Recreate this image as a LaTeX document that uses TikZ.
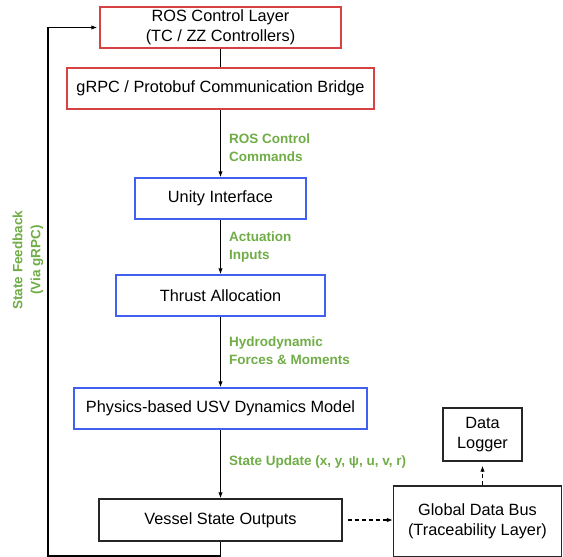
\documentclass[tikz,border=0pt]{standalone}
\usepackage{fontspec}
\setmainfont{Liberation Sans}
\usetikzlibrary{arrows.meta, positioning}

\definecolor{boxred}{RGB}{214,66,66}
\definecolor{boxblue}{RGB}{66,96,240}
\definecolor{labelgreen}{RGB}{112,173,71}

\begin{document}
\begin{tikzpicture}[x=1pt, y=-1pt,
    box/.style={draw, line width=1.3pt, minimum height=41pt, inner sep=0pt,
        align=center, font=\fontsize{16.3}{19.5}\selectfont},
    redbox/.style={box, draw=boxred},
    bluebox/.style={box, draw=boxblue},
    blackbox/.style={box, draw=black!85},
    flow/.style={-{Latex[length=6pt, width=4.5pt]}, line width=1.2pt},
    tag/.style={anchor=west, align=left, inner sep=0pt, text=labelgreen,
        font=\bfseries\fontsize{13.5}{18}\selectfont}]

    % Fix the page to the reference size
    \useasboundingbox (0, 0) rectangle (563, 557);

    % Control chain
    \node[redbox, minimum width=241pt] (ros) at (220.5, 27.5) {ROS Control Layer\\(TC / ZZ Controllers)};
    \node[redbox, minimum width=307pt] (grpc) at (220.5, 88.5) {gRPC / Protobuf Communication Bridge};
    \node[bluebox, minimum width=171pt] (unity) at (220.5, 198.5) {Unity Interface};
    \node[bluebox, minimum width=209pt] (thrust) at (220.5, 295.5) {Thrust Allocation};
    \node[bluebox, minimum width=293pt] (dyn) at (220.5, 408.5) {Physics-based USV Dynamics Model};
    \node[blackbox, minimum width=243pt, minimum height=42pt] (vessel) at (220.5, 520) {Vessel State Outputs};

    % Data side
    \node[blackbox, minimum width=79pt, minimum height=53pt] (logger) at (482.5, 434.5) {Data\\Logger};
    \node[blackbox, minimum width=168pt, minimum height=71pt] (bus) at (477.5, 521.5) {Global Data Bus\\(Traceability Layer)};

    % Connectors down the chain
    \draw[line width=1.2pt] (ros) -- (grpc);
    \foreach \from/\to in {grpc/unity, unity/thrust, thrust/dyn, dyn/vessel} {
        \draw[flow] (\from) -- (\to);
    }

    % Green signal labels
    \node[tag] (cmdlbl) at (229, 148) {ROS Control\\Commands};
    \node[tag] (actlbl) at (229, 247) {Actuation\\Inputs};
    \node[tag] (hydlbl) at (229, 351) {Hydrodynamic\\Forces \& Moments};
    \node[tag] (statelbl) at (229, 462) {State Update (x, y, ψ, u, v, r)};

    % Feedback loop
    \coordinate (fbcorner) at (48, 556);
    \draw[flow, shorten >=2pt] (vessel.south) |- (fbcorner) |- (ros.west);
    \node[tag, anchor=center, align=center, rotate=90] (fblbl) at (28, 260) {State Feedback\\(Via gRPC)};

    % Logging
    \draw[flow, dash pattern=on 4pt off 3pt, shorten <=5pt] (vessel.east) -- (bus.west |- vessel.east);
    \draw[flow, dash pattern=on 4pt off 3pt, shorten >=4pt] (bus.north -| logger.south) -- (logger.south);

\end{tikzpicture}
\end{document}
